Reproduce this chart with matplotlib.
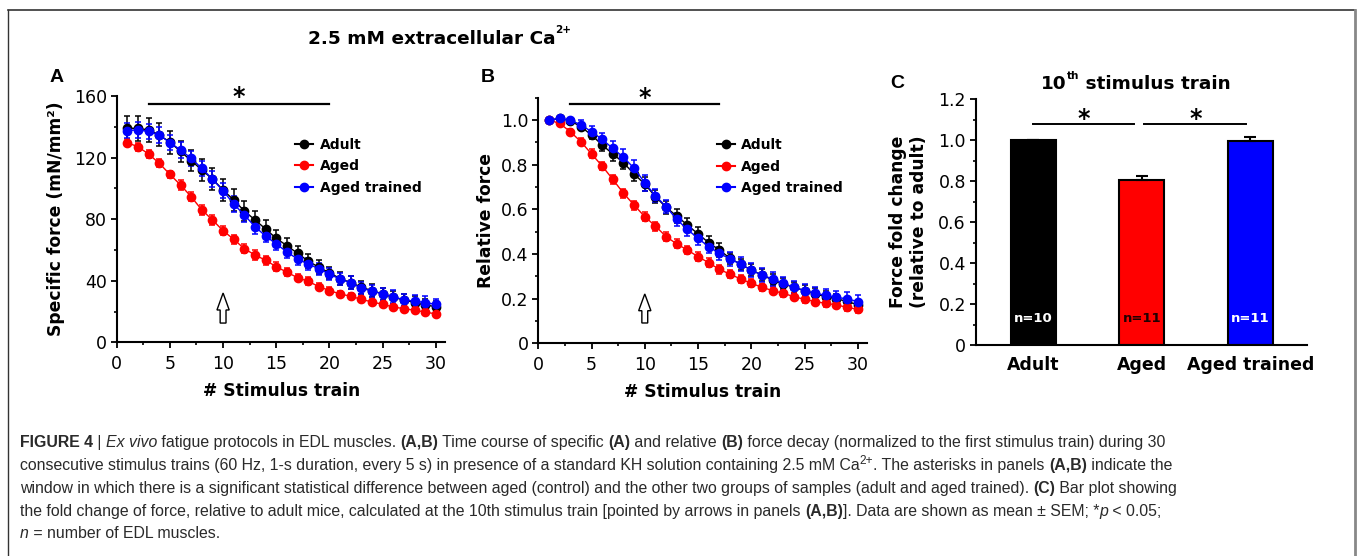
import numpy as np
import matplotlib
matplotlib.use("Agg")
import matplotlib.pyplot as plt
import matplotlib.ticker as ticker
from matplotlib.lines import Line2D
from matplotlib.patches import FancyArrow
from matplotlib import font_manager

# ---- data ----
trains = np.arange(1, 31)

# panel A: specific force (mN/mm2), mean and SEM
adult_force = [139, 139, 138, 134.7, 130, 124, 118, 112, 106, 99,
               92.4, 85.3, 79.5, 73.6, 67.5, 62.8, 57.8, 52.8, 48.7, 45.2,
               41.4, 38.8, 35.7, 33.6, 31.4, 29.2, 27.5, 25.8, 24.2, 23.2]
aged_force = [129.7, 127, 122.3, 116.3, 109.1, 102.2, 94.6, 86, 79.5, 72.5,
              66.9, 60.8, 56.7, 53.3, 49.1, 45.5, 42, 39.6, 36.2, 33.6,
              31.4, 29.9, 27.9, 26.2, 24.7, 22.9, 21.9, 20.8, 19.7, 18.4]
trained_force = [137.5, 138, 137, 134.7, 129.7, 125, 119.5, 113, 106, 98.5,
                 89.8, 82.7, 75.1, 69, 63.9, 58.7, 54.1, 50.9, 47.8, 44.4,
                 40.9, 38.8, 35.1, 33.3, 31.4, 29.7, 27.5, 26.8, 25.8, 24.7]
adult_force_sem = [8, 8, 8, 7.5, 7.5, 7, 7, 7, 7, 7,
                   7, 6.5, 6, 6, 5.5, 5, 5, 4.5, 4.5, 4,
                   4, 4, 4, 4, 4, 4, 4, 4, 4, 3.5]
aged_force_sem = [2.5, 2.5, 2.5, 2.5, 2.5, 3, 3, 3, 3, 3,
                  3, 3, 3, 3, 3, 2.5, 2.5, 2.5, 2.5, 2.5,
                  2, 2, 2, 2, 2, 2, 2, 2, 2, 2]
trained_force_sem = [5, 5, 5, 5, 5, 5, 5, 5, 5, 5,
                     5, 4.5, 4.5, 4, 4, 4, 4, 4, 4, 4,
                     4, 4, 4, 4, 4, 4, 4, 4, 4, 3.5]

# panel B: relative force, mean and SEM
adult_rel = [1.0, 1.007, 0.997, 0.97, 0.933, 0.888, 0.848, 0.809, 0.758, 0.713,
             0.657, 0.609, 0.57, 0.53, 0.49, 0.451, 0.418, 0.381, 0.354, 0.328,
             0.306, 0.284, 0.266, 0.251, 0.236, 0.221, 0.209, 0.199, 0.188, 0.172]
aged_rel = [1.0, 0.985, 0.948, 0.903, 0.848, 0.794, 0.734, 0.672, 0.619, 0.567,
            0.525, 0.478, 0.445, 0.418, 0.388, 0.361, 0.331, 0.31, 0.288, 0.269,
            0.251, 0.236, 0.224, 0.209, 0.197, 0.187, 0.179, 0.172, 0.161, 0.152]
trained_rel = [1.0, 1.007, 1.0, 0.978, 0.948, 0.913, 0.873, 0.833, 0.784, 0.719,
               0.661, 0.612, 0.555, 0.51, 0.47, 0.433, 0.403, 0.378, 0.355, 0.328,
               0.306, 0.288, 0.269, 0.251, 0.236, 0.224, 0.215, 0.206, 0.199, 0.187]
adult_rel_sem = [0, 0.005, 0.01, 0.015, 0.02, 0.025, 0.03, 0.03, 0.03, 0.03,
                 0.03, 0.03, 0.03, 0.03, 0.03, 0.03, 0.03, 0.025, 0.025, 0.025,
                 0.025, 0.025, 0.025, 0.025, 0.025, 0.025, 0.025, 0.02, 0.02, 0.02]
aged_rel_sem = [0, 0.008, 0.012, 0.015, 0.02, 0.02, 0.02, 0.02, 0.02, 0.02,
                0.02, 0.02, 0.02, 0.02, 0.02, 0.02, 0.02, 0.018, 0.018, 0.018,
                0.015, 0.015, 0.015, 0.015, 0.015, 0.015, 0.015, 0.015, 0.015, 0.015]
trained_rel_sem = [0, 0.005, 0.01, 0.02, 0.025, 0.03, 0.035, 0.035, 0.035, 0.035,
                   0.03, 0.03, 0.03, 0.03, 0.03, 0.03, 0.03, 0.03, 0.03, 0.03,
                   0.03, 0.03, 0.03, 0.03, 0.03, 0.03, 0.03, 0.03, 0.03, 0.03]

# panel C: fold change at the 10th train
groups = ["Adult", "Aged", "Aged trained"]
fold_change = [1.0, 0.805, 0.997]
fold_sem = [0.0, 0.02, 0.018]
n_labels = ["n=10", "n=11", "n=11"]

colors = ["black", "#ff0000", "#0000ff"]
n_colors = ["white", "#200000", "white"]

fig = plt.figure(figsize=(13.6, 5.56), dpi=100)
W, H = 1360.0, 556.0
renderer = fig.canvas.get_renderer()


def px(x, y):
    return x / W, 1 - y / H


def seg_width(text, kw):
    # width of a run of text, spaces included (measured between two bars)
    t1 = fig.text(0, 0, "|" + text + "|", **kw)
    t2 = fig.text(0, 0, "||", **kw)
    w = t1.get_window_extent(renderer).width - t2.get_window_extent(renderer).width
    t1.remove()
    t2.remove()
    return w


def place_run(x, baseline, segs):
    # segs: (text, text kwargs, raise in px)
    for s, kw, up in segs:
        fig.text(x / W, 1 - (baseline - up) / H, s, ha="left", va="baseline", **kw)
        x += seg_width(s, kw)
    return x


def style_axis(ax):
    for s in ["top", "right"]:
        ax.spines[s].set_visible(False)
    for s in ["left", "bottom"]:
        ax.spines[s].set_linewidth(1.5)
    ax.tick_params(which="major", direction="out", length=4, width=1.3,
                   labelsize=12.5, pad=3)
    ax.tick_params(axis="x", which="major", pad=5)
    ax.tick_params(which="minor", direction="out", length=2.5, width=1.2)


def zero_fmt(v, pos):
    return "0" if abs(v) < 1e-9 else f"{v:.1f}"


def line_panel(ax, means, sems, leg_xy):
    for m, e, c in zip(means, sems, colors):
        ax.errorbar(trains, m, yerr=e, color=c, marker="o", ms=6, lw=1,
                    elinewidth=1.1, capsize=2.5, capthick=1.1, zorder=3)
    handles = [Line2D([], [], color=c, marker="o", ms=6, lw=1.5) for c in colors]
    ax.legend(handles, groups, loc="upper left", bbox_to_anchor=leg_xy,
              frameon=False, borderpad=0, borderaxespad=0, handlelength=1.3,
              handletextpad=0.45, labelspacing=0.55,
              prop=dict(weight="bold", size=10))
    ax.set_xlim(0, 30.85)
    ax.xaxis.set_major_locator(ticker.MultipleLocator(5))
    ax.xaxis.set_minor_locator(ticker.MultipleLocator(2.5))
    ax.set_xlabel("# Stimulus train", fontsize=12.3, fontweight="bold")
    style_axis(ax)


# ---- panel A ----
axA = fig.add_axes([116.7 / W, (H - 342.3) / H, 328.2 / W, 246.3 / H])
line_panel(axA, [adult_force, aged_force, trained_force],
           [adult_force_sem, aged_force_sem, trained_force_sem], (0.544, 0.831))
axA.set_ylim(0, 160)
axA.yaxis.set_major_locator(ticker.MultipleLocator(40))
axA.yaxis.set_minor_locator(ticker.MultipleLocator(20))
axA.set_ylabel("Specific force (mN/mm²)", fontsize=12.3, fontweight="bold")
axA.yaxis.set_label_coords(-0.157, 0.5)
axA.xaxis.set_label_coords(0.503, -0.163)
axA.plot([3, 20], [154.8, 154.8], color="black", lw=1.6, clip_on=False)
axA.text(11.5, 154.5, "*", fontsize=17, fontweight="bold", ha="center", va="baseline")
axA.add_patch(FancyArrow(10, 12.5, 0, 19.5, width=0.55, head_width=1.15,
                         head_length=11, length_includes_head=True,
                         fc="white", ec="black", lw=1))

# ---- panel B ----
axB = fig.add_axes([538.3 / W, (H - 343.3) / H, 328.5 / W, 245.6 / H])
line_panel(axB, [adult_rel, aged_rel, trained_rel],
           [adult_rel_sem, aged_rel_sem, trained_rel_sem], (0.543, 0.836))
axB.set_ylim(0, 1.1)
axB.yaxis.set_major_locator(ticker.MultipleLocator(0.2))
axB.yaxis.set_minor_locator(ticker.MultipleLocator(0.1))
axB.yaxis.set_major_formatter(ticker.FuncFormatter(zero_fmt))
axB.set_ylabel("Relative force", fontsize=12.3, fontweight="bold")
axB.yaxis.set_label_coords(-0.133, 0.5)
axB.xaxis.set_label_coords(0.5, -0.16)
axB.plot([3, 17], [1.072, 1.072], color="black", lw=1.6, clip_on=False)
axB.text(10, 1.068, "*", fontsize=17, fontweight="bold", ha="center", va="baseline")
axB.add_patch(FancyArrow(10, 0.091, 0, 0.13, width=0.55, head_width=1.15,
                         head_length=0.075, length_includes_head=True,
                         fc="white", ec="black", lw=1))

# ---- panel C ----
axC = fig.add_axes([975.7 / W, (H - 345) / H, 331 / W, 246 / H])
xc = np.arange(len(groups))
axC.bar(xc, fold_change, width=0.415, color=colors, edgecolor="black", lw=1.5,
        yerr=[[0] * len(groups), fold_sem], capsize=4,
        error_kw=dict(elinewidth=1.5, capthick=1.5, ecolor="black"), zorder=2)
for x, lab, c in zip(xc, n_labels, n_colors):
    axC.text(x, 0.127, lab, color=c, fontsize=9.5, fontweight="bold",
             ha="center", va="center", zorder=4)
axC.set_xlim(-0.53, 2.52)
axC.set_ylim(0, 1.2)
axC.set_xticks(xc)
axC.set_xticklabels(groups, fontsize=12, fontweight="bold")
axC.yaxis.set_major_locator(ticker.MultipleLocator(0.2))
axC.yaxis.set_minor_locator(ticker.MultipleLocator(0.1))
axC.yaxis.set_major_formatter(ticker.FuncFormatter(zero_fmt))
style_axis(axC)
axC.tick_params(axis="x", which="both", length=0, pad=8)
axC.set_ylabel("Force fold change\n(relative to adult)", fontsize=12.3,
               fontweight="bold")
axC.yaxis.set_label_coords(-0.145, 0.5)
axC.plot([0.0, 0.93], [1.08, 1.08], color="black", lw=1.4, clip_on=False)
axC.plot([1.02, 1.96], [1.08, 1.08], color="black", lw=1.4, clip_on=False)
axC.text(0.47, 1.07, "*", fontsize=17, fontweight="bold", ha="center", va="baseline")
axC.text(1.5, 1.07, "*", fontsize=17, fontweight="bold", ha="center", va="baseline")

# ---- titles and panel letters ----
big = dict(fontsize=13.3, fontweight="bold", color="black")
small = dict(fontsize=7.5, fontweight="bold", color="black")
place_run(308, 44, [("2.5 mM extracellular Ca", big, 0), ("2+", small, 11)])
place_run(1041, 89, [("10", big, 0), ("th", small, 10), (" stimulus train", big, 0)])
for lab, (x, y) in zip("ABC", [(57, 78), (488, 78), (897, 83)]):
    fig.text(*px(x, y), lab, fontsize=14, fontweight="bold",
             family="Liberation Sans", ha="center", va="center")

# ---- frame ----
for xs, ys, col, lw in [([8, 8], [10, 556], "#333333", 1.0),
                        ([8, 1355], [10, 10], "#333333", 1.2),
                        ([1355, 1355], [10, 556], "#888888", 2.0)]:
    fig.add_artist(Line2D([x / W for x in xs], [1 - y / H for y in ys],
                          transform=fig.transFigure, color=col, lw=lw))


# ---- caption ----
def has_font(name):
    try:
        font_manager.findfont(font_manager.FontProperties(family=name),
                              fallback_to_default=False)
        return True
    except Exception:
        return False


cap_family = "Liberation Sans Narrow" if has_font("Liberation Sans Narrow") else "Liberation Sans"
cap_color = "#2a2a2a"

caption = [
    [("FIGURE 4", "b"), (" | ", "n"), ("Ex vivo", "i"),
     (" fatigue protocols in EDL muscles. ", "n"), ("(A,B)", "b"),
     (" Time course of specific ", "n"), ("(A)", "b"), (" and relative ", "n"),
     ("(B)", "b"),
     (" force decay (normalized to the first stimulus train) during 30", "n")],
    [("consecutive stimulus trains (60 Hz, 1-s duration, every 5 s) in presence of a "
      "standard KH solution containing 2.5 mM Ca", "n"), ("2+", "sup"),
     (". The asterisks in panels ", "n"), ("(A,B)", "b"), (" indicate the", "n")],
    [("window in which there is a significant statistical difference between aged "
      "(control) and the other two groups of samples (adult and aged trained). ", "n"),
     ("(C)", "b"), (" Bar plot showing", "n")],
    [("the fold change of force, relative to adult mice, calculated at the 10th "
      "stimulus train [pointed by arrows in panels ", "n"), ("(A,B)", "b"),
     ("]. Data are shown as mean \u00b1 SEM; *", "n"), ("p", "i"), (" < 0.05;", "n")],
    [("n", "i"), (" = number of EDL muscles.", "n")],
]


def seg_kw(style, fs):
    kw = dict(fontsize=fs, color=cap_color, family=cap_family)
    if style == "b":
        kw["fontweight"] = "bold"
    elif style == "i":
        kw["fontstyle"] = "italic"
    elif style == "sup":
        kw["fontsize"] = fs * 0.75
    return kw


base_fs = 12.0
w1 = sum(seg_width(s, seg_kw(st, base_fs)) for s, st in caption[0])
cap_fs = base_fs * (1149.0 / w1)

baselines = [447, 470, 493, 516, 538]
for segs, yb in zip(caption, baselines):
    place_run(20.0, yb, [(s, seg_kw(st, cap_fs), cap_fs * 0.55 if st == "sup" else 0)
                         for s, st in segs])

fig.savefig("out.png", dpi=100)
